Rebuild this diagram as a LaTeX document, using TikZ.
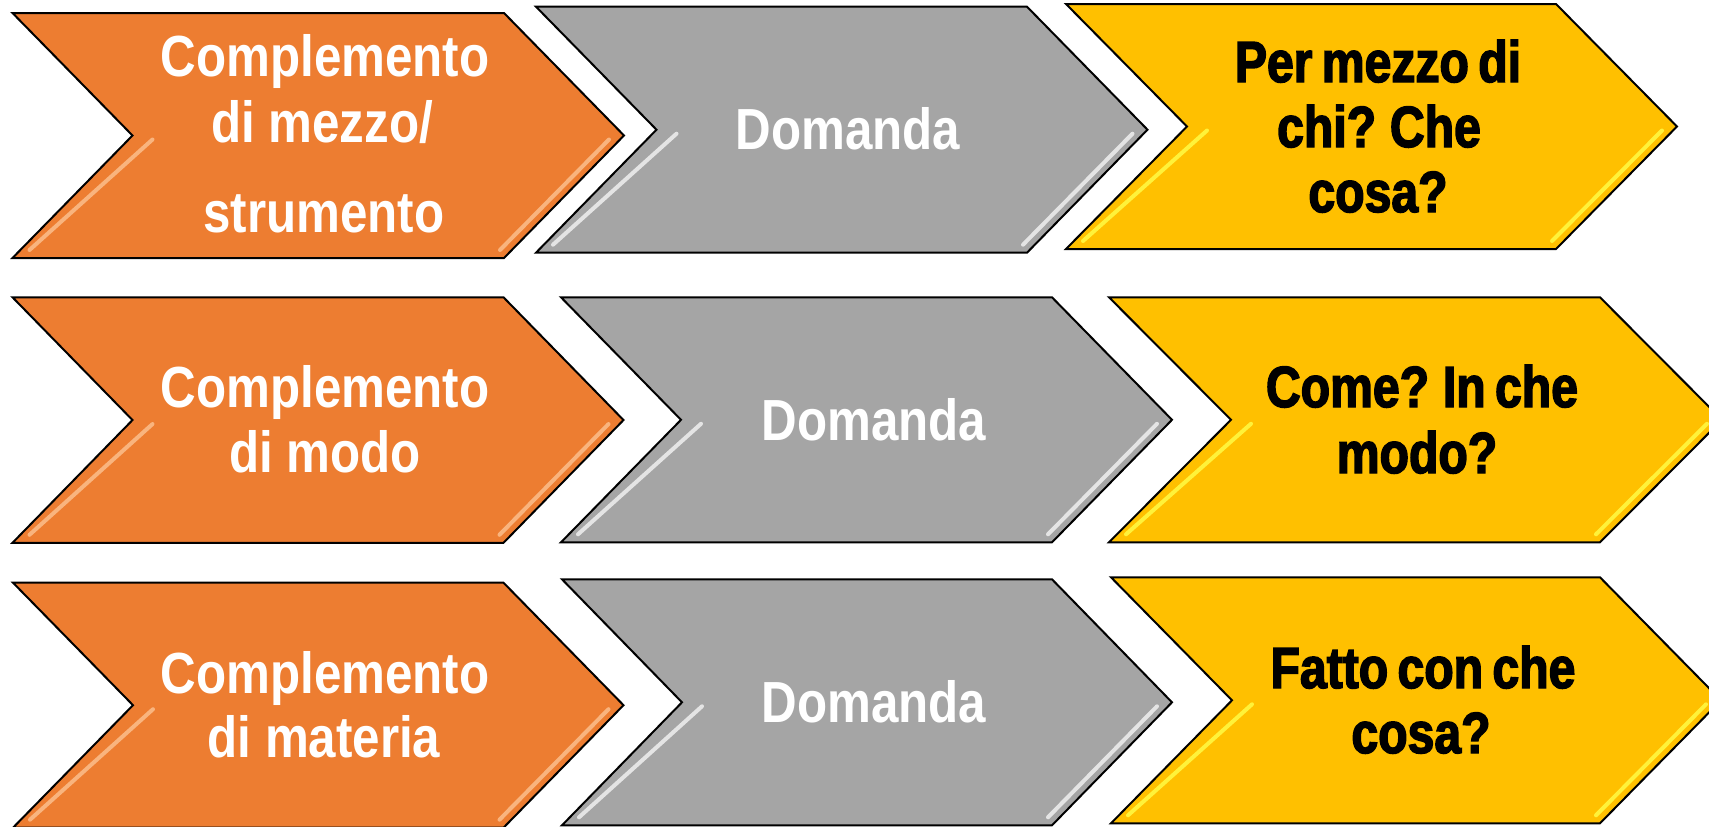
\documentclass[tikz,border=0pt]{standalone}
\usepackage{fontspec}
\newfontfamily\wfont[FakeStretch=0.85]{Liberation Sans}
\newfontfamily\bkfont[FakeStretch=0.83,FakeBold=2.5,WordSpace=0.7]{Liberation Sans}
\definecolor{corange}{HTML}{ED7D31}
\definecolor{cgray}{HTML}{A5A5A5}
\definecolor{cyellow}{HTML}{FFC000}
\definecolor{horange}{HTML}{F9B47E}
\definecolor{hgray}{HTML}{E4E4E4}
\definecolor{hyellow}{HTML}{FFF23A}
\newcommand\drawchev[7]{%
\begin{scope}[shift={(#1,#2)}]
 \fill[#6] (0,0) -- (#3,0) -- (#3+#5,#4/2) -- (#3,#4) -- (0,#4) -- (#5,#4/2) -- cycle;
 \draw[#7,line width=4pt,line cap=round] (#5+20,#4/2+4) -- (17,#4-8);
 \draw[#7,line width=4pt,line cap=round] (#3+#5-15,#4/2+4) -- (#3-4,#4-8);
 \draw[black,line width=2pt,line join=miter] (0,0) -- (#3,0) -- (#3+#5,#4/2) -- (#3,#4) -- (0,#4) -- (#5,#4/2) -- cycle;
\end{scope}}
\begin{document}
\begin{tikzpicture}[x=1pt,y=-1pt,
  wtxt/.style={text=white,font=\wfont\bfseries\fontsize{58}{58}\selectfont,inner sep=0pt,anchor=base},
  btxt/.style={text=black,font=\bkfont\bfseries\fontsize{58}{58}\selectfont,inner sep=0pt,anchor=base}]
\useasboundingbox (0,0) rectangle (1709,827);
\clip (0,0) rectangle (1709,827);
% row 1
\drawchev{12.5}{13}{491.5}{245}{120}{corange}{horange}
\drawchev{536}{6.7}{491}{246}{120.5}{cgray}{hgray}
\drawchev{1066}{4}{490}{245}{121}{cyellow}{hyellow}
% row 2
\drawchev{12.5}{297.3}{491}{245.5}{120}{corange}{horange}
\drawchev{561}{297.3}{491}{245}{120}{cgray}{hgray}
\drawchev{1109}{297.3}{491}{245}{122}{cyellow}{hyellow}
% row 3
\drawchev{13}{582.7}{490.5}{245}{120}{corange}{horange}
\drawchev{562}{579.3}{490}{246}{120}{cgray}{hgray}
\drawchev{1111}{577.3}{489}{246}{121}{cyellow}{hyellow}
% texts row 1
\node[wtxt] (o1a) at (325,76) {Complemento};
\node[wtxt] (o1b) at (322,142) {di mezzo/};
\node[wtxt] (o1c) at (324,232) {strumento};
\node[wtxt] (g1) at (848,149) {Domanda};
\node[btxt] (y1a) at (1378,82) {Per mezzo di};
\node[btxt] (y1b) at (1379,147) {chi? Che};
\node[btxt] (y1c) at (1378,212) {cosa?};
% texts row 2
\node[wtxt] (o2a) at (325,407) {Complemento};
\node[wtxt] (o2b) at (325,472) {di modo};
\node[wtxt] (g2) at (874,440) {Domanda};
\node[btxt] (y2a) at (1422,407) {Come? In che};
\node[btxt] (y2b) at (1417,473) {modo?};
% texts row 3
\node[wtxt] (o3a) at (325,693) {Complemento};
\node[wtxt] (o3b) at (324,757) {di materia};
\node[wtxt] (g3) at (874,722) {Domanda};
\node[btxt] (y3a) at (1423,688) {Fatto con che};
\node[btxt] (y3b) at (1421,753) {cosa?};
\end{tikzpicture}
\end{document}
